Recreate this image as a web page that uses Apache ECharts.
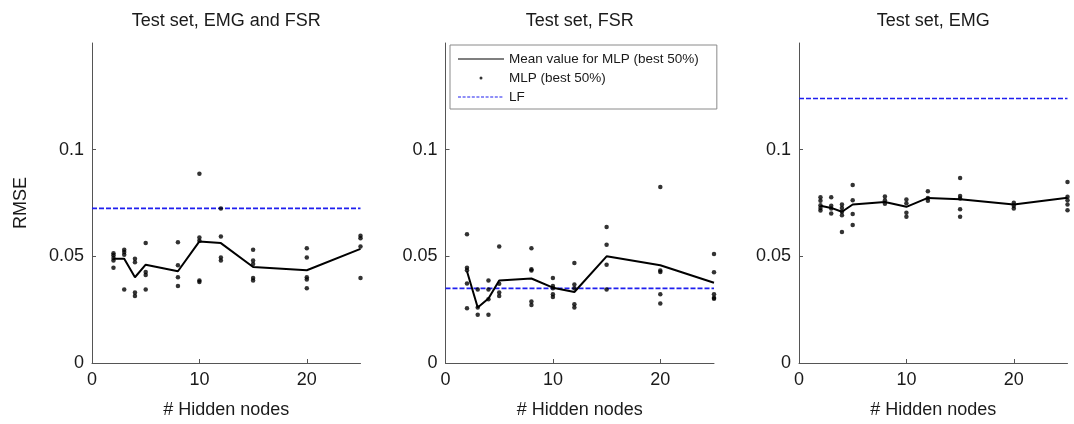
<!DOCTYPE html>
<html><head><meta charset="utf-8">
<script src="https://cdn.jsdelivr.net/npm/echarts@6/dist/echarts.min.js"></script>
<style>html,body{margin:0;padding:0;background:#fff}#c{width:1074px;height:424px}</style>
</head><body><div id="c"></div>
<script>
const hiddenNodes = [2, 3, 4, 5, 8, 10, 12, 15, 20, 25];
const panelTitles = ['Test set, EMG and FSR', 'Test set, FSR', 'Test set, EMG'];
const xTickValues = [0, 10, 20];
const yTickValues = [0, 0.05, 0.1];
const legendNames = ['Mean value for MLP (best 50%)', 'MLP (best 50%)', 'LF'];

const meanEmgFsr = [0.0489, 0.0489, 0.0402, 0.0461, 0.0430, 0.0570, 0.0562, 0.0450, 0.0435, 0.0535];
const meanFsr    = [0.0430, 0.0260, 0.0302, 0.0387, 0.0396, 0.0353, 0.0333, 0.0500, 0.0458, 0.0376];
const meanEmg    = [0.0737, 0.0727, 0.0709, 0.0743, 0.0755, 0.0732, 0.0774, 0.0768, 0.0743, 0.0775];

const dotsEmgFsr = [
  [0.0515, 0.0505, 0.0492, 0.0480, 0.0446],
  [0.0531, 0.0520, 0.0508, 0.0345],
  [0.0489, 0.0472, 0.0330, 0.0314],
  [0.0562, 0.0427, 0.0412, 0.0345],
  [0.0566, 0.0458, 0.0402, 0.0361],
  [0.0887, 0.0588, 0.0573, 0.0387, 0.0380],
  [0.0724, 0.0593, 0.0495, 0.0480],
  [0.0531, 0.0480, 0.0464, 0.0399, 0.0387],
  [0.0538, 0.0495, 0.0402, 0.0391, 0.0350],
  [0.0597, 0.0585, 0.0546, 0.0399]
];
const dotsFsr = [
  [0.0604, 0.0446, 0.0435, 0.0373, 0.0257],
  [0.0345, 0.0260, 0.0226],
  [0.0387, 0.0345, 0.0299, 0.0226],
  [0.0546, 0.0371, 0.0330, 0.0314],
  [0.0538, 0.0440, 0.0434, 0.0288, 0.0272],
  [0.0399, 0.0361, 0.0350, 0.0322, 0.0309],
  [0.0469, 0.0368, 0.0350, 0.0275, 0.0260],
  [0.0637, 0.0554, 0.0461, 0.0345],
  [0.0825, 0.0434, 0.0427, 0.0322, 0.0279],
  [0.0511, 0.0425, 0.0322, 0.0306, 0.0301]
];
const dotsEmg = [
  [0.0777, 0.0761, 0.0740, 0.0727, 0.0715],
  [0.0777, 0.0737, 0.0724, 0.0701],
  [0.0743, 0.0727, 0.0709, 0.0693, 0.0614],
  [0.0834, 0.0763, 0.0698, 0.0647],
  [0.0780, 0.0763, 0.0746],
  [0.0766, 0.0749, 0.0704, 0.0686],
  [0.0805, 0.0774, 0.0760],
  [0.0867, 0.0783, 0.0771, 0.0721, 0.0686],
  [0.0751, 0.0737, 0.0724],
  [0.0848, 0.0779, 0.0763, 0.0743, 0.0716]
];
const lfValues = [0.0725, 0.035, 0.124];
const xRange = [0, 25];

const means = [meanEmgFsr, meanFsr, meanEmg];
const dots = [dotsEmgFsr, dotsFsr, dotsEmg];

const FONT = "'Liberation Sans', Arial, Helvetica, sans-serif";
const gridLefts = [92, 445.5, 799];
const gridW = 268.5, gridTop = 43, gridH = 323;

// legend icon shapes (drawn in a 46x14 box)
const ICON_BOX = 'M0,0M46,0M46,14M0,14';
const solidIcon = 'path://' + ICON_BOX + 'M0,6.4L46,6.4L46,7.6L0,7.6Z';
let dashPath = '';
for (let x = 0; x < 46; x += 4.6) dashPath += 'M' + x + ',6.5L' + (x + 3) + ',6.5L' + (x + 3) + ',7.5L' + x + ',7.5Z';
const dashIcon = 'path://' + ICON_BOX + dashPath;
const dotIcon = 'path://' + ICON_BOX + 'M21.5,7a1.5,1.5,0,1,0,3,0a1.5,1.5,0,1,0,-3,0Z';

const grids = [], xAxes = [], yAxes = [], titles = [], series = [];
for (let i = 0; i < 3; i++) {
  grids.push({ left: gridLefts[i], top: gridTop, width: gridW, height: gridH, containLabel: false });
  titles.push({
    text: panelTitles[i], left: gridLefts[i] + gridW / 2, top: 12, textAlign: 'center', padding: 0,
    textStyle: { fontFamily: FONT, fontSize: 18, fontWeight: 'normal', color: '#1a1a1a' }
  });
  xAxes.push({
    gridIndex: i, type: 'value', min: 0, max: 25, interval: 10,
    name: '# Hidden nodes', nameLocation: 'middle', nameGap: 38,
    nameTextStyle: { fontFamily: FONT, fontSize: 18, color: '#1a1a1a' },
    axisLine: { lineStyle: { color: '#555', width: 1 } },
    axisTick: { inside: true, length: 4, customValues: xTickValues, lineStyle: { color: '#555' } },
    axisLabel: { customValues: xTickValues, margin: 8, fontFamily: FONT, fontSize: 18, color: '#1a1a1a' },
    splitLine: { show: false }
  });
  yAxes.push({
    gridIndex: i, type: 'value', min: 0, max: 0.15, interval: 0.05,
    name: i === 0 ? 'RMSE' : '', nameLocation: 'middle', nameGap: 62,
    nameTextStyle: { fontFamily: FONT, fontSize: 18, color: '#1a1a1a' },
    axisLine: { show: true, lineStyle: { color: '#555', width: 1 } },
    axisTick: { show: true, inside: true, length: 4, customValues: yTickValues, lineStyle: { color: '#555' } },
    axisLabel: { customValues: yTickValues, margin: 8, fontFamily: FONT, fontSize: 18, color: '#1a1a1a',
      formatter: v => String(v) },
    splitLine: { show: false }
  });
  const scatterData = [];
  hiddenNodes.forEach((n, k) => dots[i][k].forEach(v => scatterData.push([n, v])));
  series.push({
    name: legendNames[2], type: 'line', xAxisIndex: i, yAxisIndex: i,
    data: [[xRange[0], lfValues[i]], [xRange[1], lfValues[i]]],
    symbol: 'none', lineStyle: { color: '#1f1fef', width: 1.6, type: [5, 2] },
    itemStyle: { color: '#1f1fef' }, z: 1, silent: true
  });
  series.push({
    name: legendNames[0], type: 'line', xAxisIndex: i, yAxisIndex: i,
    data: hiddenNodes.map((n, k) => [n, means[i][k]]),
    symbol: 'none', lineStyle: { color: '#000', width: 2 }, itemStyle: { color: '#000' }, z: 2
  });
  series.push({
    name: legendNames[1], type: 'scatter', xAxisIndex: i, yAxisIndex: i,
    data: scatterData, symbol: 'circle', symbolSize: 4.5,
    itemStyle: { color: '#000' }, z: 3
  });
}

const chart = echarts.init(document.getElementById('c'), null, { renderer: 'canvas' });
chart.setOption({
  animation: false,
  backgroundColor: '#fff',
  title: titles,
  grid: grids,
  xAxis: xAxes,
  yAxis: yAxes,
  legend: {
    left: 450, top: 45, orient: 'vertical',
    itemWidth: 46, itemHeight: 14, itemGap: 5,
    padding: [7, 18, 5, 8],
    borderColor: '#8a8a8a', borderWidth: 1, backgroundColor: '#fff',
    textStyle: { fontFamily: FONT, fontSize: 13.5, color: '#1a1a1a' },
    data: [
      { name: legendNames[0], icon: solidIcon, itemStyle: { color: '#000' } },
      { name: legendNames[1], icon: dotIcon, itemStyle: { color: '#000' } },
      { name: legendNames[2], icon: dashIcon, itemStyle: { color: '#1f1fef' } }
    ],
    selectedMode: false
  },
  series: series
});
</script>
</body></html>
